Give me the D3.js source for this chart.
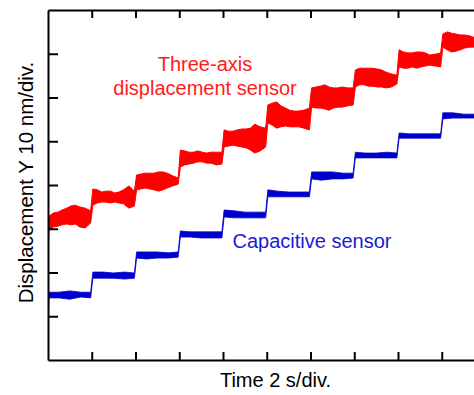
<!DOCTYPE html>
<html>
<head>
<meta charset="utf-8">
<script src="https://cdn.jsdelivr.net/npm/d3@7"></script>
<style>
  html, body { margin: 0; padding: 0; background: #fff; }
  svg { display: block; }
  text { font-family: "Liberation Sans", Arial, Helvetica, sans-serif; }
</style>
</head>
<body>
<svg id="chart" width="474" height="395"></svg>
<script>
// ---- Data (time in s, displacement in nm) ----
const xTicks = [2, 4, 6, 8, 10, 12, 14, 16, 18];
const yTicks = [10, 20, 30, 40, 50, 60, 70];

const redTime = [0,
  0.05,0.25,0.45,0.65,0.85,1.05,1.25,1.45,1.7,1.95,
  2.05,2.25,2.45,2.65,2.85,3.05,3.25,3.45,3.7,3.95,
  4.05,4.25,4.45,4.65,4.85,5.05,5.25,5.45,5.7,5.95,
  6.05,6.25,6.45,6.65,6.85,7.05,7.25,7.45,7.7,7.95,
  8.05,8.25,8.45,8.65,8.85,9.05,9.25,9.45,9.7,9.95,
  10.05,10.25,10.45,10.65,10.85,11.05,11.25,11.45,11.7,11.95,
  12.05,12.25,12.45,12.65,12.85,13.05,13.25,13.45,13.7,13.95,
  14.05,14.25,14.45,14.65,14.85,15.05,15.25,15.45,15.7,15.95,
  16.05,16.25,16.45,16.65,16.85,17.05,17.25,17.45,17.7,17.95,
  18.05,18.25,18.45,18.65,18.85,19.05,19.25,19.45,19.7,19.95];

const redTop = [33.0,
  32.9,33.6,33.8,34.3,34.7,35.2,35.4,35.0,34.7,34.1,
  39.1,38.9,38.4,38.6,38.6,38.2,38.4,38.9,39.8,38.6,
  42.3,42.5,42.7,42.7,42.7,43.0,43.0,42.7,42.1,41.6,
  48.0,47.8,47.5,47.5,47.8,47.5,47.3,47.5,47.5,47.5,
  52.6,52.3,52.3,52.6,52.8,52.8,53.0,53.9,53.3,53.0,
  58.3,58.7,59.0,58.1,57.6,57.1,56.9,56.9,57.1,57.6,
  62.2,62.4,62.6,62.9,62.4,62.2,62.2,62.4,62.2,62.2,
  66.3,66.7,66.7,66.7,66.7,66.5,66.3,65.8,65.4,65.1,
  70.9,70.4,70.2,70.2,70.4,70.4,70.2,69.7,69.9,70.2,
  74.5,75.0,74.7,74.5,74.3,74.3,74.1,73.8,73.8,73.8];

const redBottom = [25.1,
  29.7,30.4,30.6,30.9,31.1,30.9,31.1,30.4,30.2,31.3,
  35.4,35.9,36.1,36.1,35.9,36.1,35.9,35.7,34.7,35.2,
  38.9,39.1,39.3,39.1,38.9,38.6,38.9,39.3,39.8,40.2,
  44.1,44.6,44.8,45.0,45.3,45.3,45.0,45.0,44.6,44.8,
  48.7,48.9,49.1,48.9,48.7,48.5,48.0,47.3,47.8,48.7,
  54.2,53.7,53.0,53.3,53.5,53.3,53.3,53.3,53.0,52.6,
  57.8,57.6,57.6,57.4,57.1,57.6,57.8,57.8,58.1,58.3,
  62.4,62.9,62.9,62.6,62.6,62.4,62.4,62.2,62.4,63.1,
  67.0,66.7,66.7,67.0,66.7,67.0,67.2,67.4,67.2,67.0,
  71.5,70.9,70.4,70.6,70.9,71.3,71.5,71.5,71.5,71.5];

const blueTime = [0,
  0.05,0.5,1.0,1.5,1.95,
  2.05,2.5,3.0,3.5,3.95,
  4.05,4.5,5.0,5.5,5.95,
  6.05,6.5,7.0,7.5,7.95,
  8.05,8.5,9.0,9.5,9.95,
  10.05,10.5,11.0,11.5,11.95,
  12.05,12.5,13.0,13.5,13.95,
  14.05,14.5,15.0,15.5,15.95,
  16.05,16.5,17.0,17.5,17.95,
  18.05,18.5,19.0,19.5,19.95];

const blueTop = [15.3,
  15.5,15.5,15.8,15.5,15.5,
  20.1,20.1,19.9,20.1,19.9,
  24.7,24.7,24.7,24.5,24.7,
  29.5,29.3,29.3,29.3,29.3,
  34.3,34.1,33.8,33.8,33.8,
  38.9,38.6,38.4,38.4,38.4,
  43.0,43.0,43.0,42.7,42.7,
  47.5,47.3,47.3,47.5,47.3,
  51.9,51.7,51.7,51.7,51.7,
  56.5,56.5,56.2,56.2,56.2];

const blueBottom = [9.8,
  14.2,14.2,13.9,14.4,14.2,
  18.7,18.7,18.7,18.5,18.7,
  23.3,23.1,23.3,23.3,23.5,
  28.1,28.1,27.9,27.9,27.9,
  32.7,32.5,32.5,32.5,32.5,
  37.3,37.3,37.3,37.3,37.3,
  41.4,41.1,41.4,41.4,41.6,
  46.2,46.2,46.2,46.2,46.2,
  50.7,50.7,50.7,50.7,50.7,
  55.1,55.3,55.3,55.3,55.3];

// ---- Chart ----
(function () {
const svg = d3.select("#chart");
const mLeft = 48, mTop = 10, mBottom = 360, mRight = 485.5;

const x = d3.scaleLinear().domain([0, 20]).range([mLeft, mRight]);
const y = d3.scaleLinear().domain([0, 80]).range([mBottom, mTop]);

svg.append("defs").append("clipPath").attr("id", "plotclip")
  .append("rect").attr("x", mLeft).attr("y", mTop)
  .attr("width", mRight - mLeft).attr("height", mBottom - mTop);

const plot = svg.append("g").attr("clip-path", "url(#plotclip)");

function drawBand(time, hi, lo, color, sw) {
  const pts = time.map((t, i) => ({ t, hi: hi[i], lo: lo[i] }));
  const area = d3.area()
    .x(d => x(d.t))
    .y0(d => y(d.lo))
    .y1(d => y(d.hi));
  plot.append("path")
    .datum(pts)
    .attr("d", area)
    .attr("fill", color)
    .attr("stroke", color)
    .attr("stroke-width", sw)
    .attr("stroke-linejoin", "miter");
}

drawBand(redTime, redTop, redBottom, "#ff0000", 1);
drawBand(blueTime, blueTop, blueBottom, "#0000cc", 0.8);

// Axes
const axisStyle = g => {
  g.selectAll("path.domain").attr("stroke", "#000").attr("stroke-width", 2);
  g.selectAll(".tick line").attr("stroke", "#000").attr("stroke-width", 2);
  g.selectAll(".tick text").remove();
};

svg.append("g")
  .attr("transform", `translate(0,${mBottom})`)
  .call(d3.axisBottom(x).tickValues(xTicks).tickSizeInner(-8).tickSizeOuter(0).tickFormat(""))
  .call(axisStyle);

svg.append("g")
  .attr("transform", `translate(0,${mTop})`)
  .call(d3.axisTop(x).tickValues(xTicks).tickSizeInner(-8).tickSizeOuter(0).tickFormat(""))
  .call(axisStyle);

svg.append("g")
  .attr("transform", `translate(${mLeft},0)`)
  .call(d3.axisLeft(y).tickValues(yTicks).tickSizeInner(-10).tickSizeOuter(0).tickFormat(""))
  .call(axisStyle);

// Labels
svg.append("text")
  .attr("x", 275.5).attr("y", 387)
  .attr("text-anchor", "middle")
  .attr("font-size", 20).attr("fill", "#000")
  .text("Time 2 s/div.");

svg.append("text")
  .attr("transform", `translate(33,182.5) rotate(-90)`)
  .attr("text-anchor", "middle")
  .attr("font-size", 20.5).attr("fill", "#000")
  .text("Displacement Y 10 nm/div.");

svg.append("text")
  .attr("x", 205).attr("y", 71)
  .attr("text-anchor", "middle")
  .attr("font-size", 20).attr("fill", "#ff1a1a")
  .text("Three-axis");

svg.append("text")
  .attr("x", 205).attr("y", 95)
  .attr("text-anchor", "middle")
  .attr("font-size", 20).attr("fill", "#ff1a1a")
  .text("displacement sensor");

svg.append("text")
  .attr("x", 312).attr("y", 248)
  .attr("text-anchor", "middle")
  .attr("font-size", 20).attr("fill", "#1a1ad6")
  .text("Capacitive sensor");
})();
</script>
</body>
</html>
